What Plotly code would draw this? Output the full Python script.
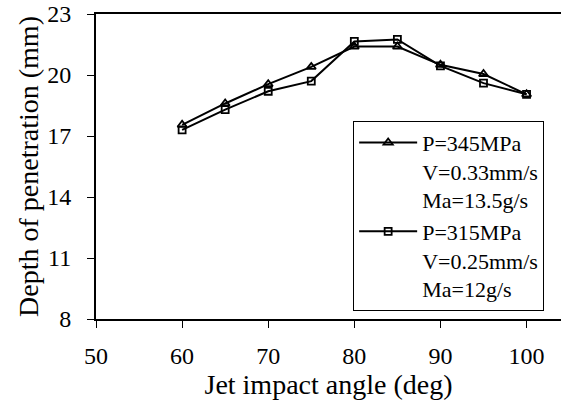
import plotly.graph_objects as go

angles = [60, 65, 70, 75, 80, 85, 90, 95, 100]
depth_345 = [17.55, 18.6, 19.55, 20.4, 21.4, 21.4, 20.5, 20.05, 19.05]
depth_315 = [17.3, 18.3, 19.2, 19.7, 21.65, 21.75, 20.45, 19.6, 19.05]
name_345 = "P=345MPa<br>V=0.33mm/s<br>Ma=13.5g/s"
name_315 = "P=315MPa<br>V=0.25mm/s<br>Ma=12g/s"
x_ticks = [50, 60, 70, 80, 90, 100]
y_ticks = [8, 11, 14, 17, 20, 23]

FONT = "Liberation Serif, Times New Roman, serif"

fig = go.Figure()
fig.add_trace(go.Scatter(
    x=angles, y=depth_345, name=name_345, mode="lines+markers",
    line=dict(color="black", width=2),
    marker=dict(symbol="triangle-up-open", size=8, color="black", line=dict(width=1.8)),
))
fig.add_trace(go.Scatter(
    x=angles, y=depth_315, name=name_315, mode="lines+markers",
    line=dict(color="black", width=2),
    marker=dict(symbol="square-open", size=7, color="black", line=dict(width=1.8)),
))

fig.update_layout(
    width=561, height=409,
    margin=dict(l=96, r=0, t=14, b=90),
    paper_bgcolor="white", plot_bgcolor="white",
    font=dict(family=FONT, size=24, color="black"),
    showlegend=True,
    legend=dict(
        x=0.553, y=0.65, xanchor="left", yanchor="top",
        bgcolor="white", bordercolor="black", borderwidth=1,
        font=dict(family=FONT, size=22, color="black"),
        valign="top", tracegroupgap=0, itemwidth=58,
    ),
    xaxis=dict(
        range=[50, 104], tickvals=x_ticks, ticktext=[str(v) for v in x_ticks],
        showgrid=False, zeroline=False, automargin=False,
        showline=True, linecolor="black", linewidth=2, mirror=True,
        ticks="outside", ticklen=7, tickcolor="black", tickwidth=1,
        ticklabelstandoff=7,
        title=dict(text="Jet impact angle (deg)", font=dict(size=28), standoff=6),
    ),
    yaxis=dict(
        range=[8, 23], tickvals=y_ticks, ticktext=[str(v) for v in y_ticks],
        showgrid=False, zeroline=False, automargin=False,
        showline=True, linecolor="black", linewidth=2,
        ticks="outside", ticklen=7, tickcolor="black", tickwidth=1,
        ticklabelstandoff=11,
        title=dict(text="Depth of penetration (mm)", font=dict(size=28), standoff=0),
    ),
)

fig.write_html("out.html", config={"displayModeBar": False},
               post_script="document.body.style.margin='0';")
